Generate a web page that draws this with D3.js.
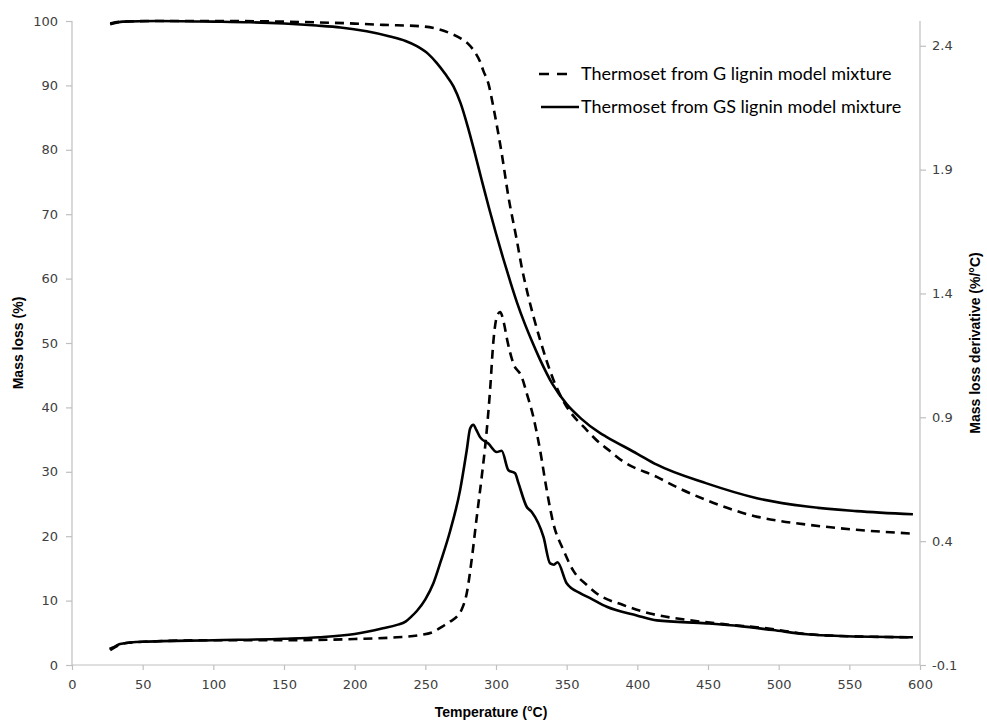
<!DOCTYPE html>
<html>
<head>
<meta charset="utf-8">
<script src="https://cdn.jsdelivr.net/npm/d3@7"></script>
<style>
  html, body { margin: 0; padding: 0; background: #fff; }
  svg { display: block; }
</style>
</head>
<body>
<svg id="chart" width="987" height="723"></svg>
<script>
// ---------- DATA ----------
// Mass loss (%) – Thermoset from G lignin model mixture (dashed)
const gTgTemp = [27, 35, 60, 100, 150, 200, 220, 246, 260, 267.5, 275, 280.5, 285, 288.7, 291, 294.6, 298, 300, 304, 308.8, 314.7, 318, 322.9, 331.2, 340.6, 350, 355, 361.9, 373.7, 378.4, 390, 413.8, 430, 449, 465, 485, 500, 520, 555, 595];
const gTgMass = [99.6, 99.9, 100, 100, 99.9, 99.6, 99.4, 99.2, 98.7, 98.1, 97.3, 96.4, 95.2, 93.7, 92.3, 90.3, 86.8, 84.5, 79.5, 72.7, 66, 62, 57.2, 50.5, 44.3, 40.1, 38.6, 37, 34.4, 33.6, 31.6, 29.2, 27.4, 25.6, 24.3, 23.0, 22.4, 21.8, 21.0, 20.4];

// Mass loss (%) – Thermoset from GS lignin model mixture (solid)
const gsTgTemp = [27, 36, 60, 100, 126, 150, 173, 190, 208.5, 225, 236, 244, 252, 258, 264, 270, 275, 280, 285, 290, 295, 300, 305, 310, 315, 320, 325, 331, 340, 350, 360, 373.7, 378.4, 400, 413.8, 449, 484.6, 520, 555, 595];
const gsTgMass = [99.5, 99.9, 100, 99.9, 99.8, 99.6, 99.3, 99.0, 98.4, 97.6, 96.9, 96.1, 94.9, 93.5, 91.8, 89.8, 87.2, 83.6, 79.5, 75.2, 71.0, 67.0, 63.2, 59.6, 56.2, 53.2, 50.5, 47.5, 43.6, 40.5, 38.3, 36, 35.4, 32.8, 31.1, 28.2, 25.9, 24.6, 23.9, 23.4];

// Mass loss derivative (%/°C) – G (dashed)
const gDtgTemp = [27, 33, 40, 60, 100, 150, 200, 230, 245, 255.7, 262, 267.5, 273, 275.8, 279.3, 282.9, 286.4, 289.9, 293, 295.8, 298.2, 300.5, 302.9, 305.7, 308, 312.3, 318.2, 321.8, 326.5, 331.2, 335.9, 340.6, 347.7, 354.8, 364.3, 371, 390, 409, 437, 461, 491.6, 520, 550, 595];
const gDtg = [-0.04, -0.02, -0.01, -0.004, 0.0, 0.0, 0.005, 0.012, 0.02, 0.034, 0.055, 0.075, 0.10, 0.125, 0.19, 0.33, 0.498, 0.66, 0.82, 1.009, 1.21, 1.304, 1.325, 1.278, 1.21, 1.117, 1.063, 0.996, 0.90, 0.767, 0.606, 0.471, 0.364, 0.28, 0.223, 0.19, 0.142, 0.108, 0.081, 0.065, 0.048, 0.025, 0.016, 0.012];

// Mass loss derivative (%/°C) – GS (solid)
const gsDtgTemp = [26.5, 30, 34, 50, 100, 150, 175, 200, 220, 230, 236, 240, 244, 250, 255.7, 261, 267.5, 274.6, 279.3, 281.7, 284, 286, 288.7, 294.6, 300.5, 304, 308.8, 313.5, 315.9, 321.8, 325.3, 333.6, 338.3, 341, 343.5, 350, 359.5, 366.6, 378.4, 399.6, 413.8, 449, 472.7, 496, 520, 543.5, 595];
const gsDtg = [-0.035, -0.027, -0.015, -0.006, 0.0, 0.006, 0.012, 0.025, 0.048, 0.062, 0.075, 0.095, 0.118, 0.165, 0.23, 0.32, 0.44, 0.606, 0.767, 0.855, 0.87, 0.85, 0.82, 0.794, 0.76, 0.765, 0.686, 0.674, 0.634, 0.538, 0.518, 0.417, 0.31, 0.305, 0.315, 0.23, 0.19, 0.17, 0.135, 0.10, 0.08, 0.068, 0.057, 0.041, 0.024, 0.017, 0.012];

const xTicks = [0, 50, 100, 150, 200, 250, 300, 350, 400, 450, 500, 550, 600];
const yLeftTicks = [0, 10, 20, 30, 40, 50, 60, 70, 80, 90, 100];
const yRightTicks = [-0.1, 0.4, 0.9, 1.4, 1.9, 2.4];

const seriesNames = ["Thermoset from G lignin model mixture", "Thermoset from GS lignin model mixture"];
const xTitle = "Temperature (°C)";
const yLeftTitle = "Mass loss (%)";
const yRightTitle = "Mass loss derivative (%/°C)";

// ---------- CHART ----------
const svg = d3.select("#chart");
const L = 72, R = 920, T = 21, B = 665;
const axisColor = "#bfbfbf";
const tickFont = "'DejaVu Sans', Verdana, sans-serif";
const titleFont = "'Liberation Sans Narrow', 'Liberation Sans', Arial, sans-serif";

const x = d3.scaleLinear().domain([0, 600]).range([L, R]);
const yL = d3.scaleLinear().domain([0, 100]).range([B, T]);
const yR = d3.scaleLinear().domain([-0.1, 2.5]).range([B, T]);

// axes
const xAxis = svg.append("g").attr("transform", `translate(0,${B})`)
  .call(d3.axisBottom(x).tickValues(xTicks).tickSize(5).tickPadding(10).tickFormat(d3.format("d")));
const yAxisL = svg.append("g").attr("transform", `translate(${L},0)`)
  .call(d3.axisLeft(yL).tickValues(yLeftTicks).tickSize(6).tickPadding(8).tickFormat(d3.format("d")));
const yAxisR = svg.append("g").attr("transform", `translate(${R},0)`)
  .call(d3.axisRight(yR).tickValues(yRightTicks).tickSize(6).tickPadding(6)
    .tickFormat(d => d.toFixed(1)));

[xAxis, yAxisL, yAxisR].forEach(g => {
  g.select(".domain").attr("stroke", axisColor).attr("stroke-width", 1.2);
  g.selectAll(".tick line").attr("stroke", axisColor).attr("stroke-width", 1.2);
  g.selectAll(".tick text").attr("fill", "#404040").style("font-family", tickFont).style("font-size", "13px");
});
xAxis.select(".domain").attr("d", `M${L},0H${R}`);
yAxisL.select(".domain").attr("d", `M0,${T}V${B}`);
yAxisR.select(".domain").attr("d", `M0,${T}V${B}`);

// axis titles
svg.append("text").attr("x", (L + R) / 2 - 5).attr("y", 717)
  .attr("text-anchor", "middle").style("font-family", titleFont).style("font-weight", "bold")
  .style("font-size", "14px").attr("fill", "#000").text(xTitle);
svg.append("text").attr("transform", `translate(23,${(T + B) / 2}) rotate(-90)`)
  .attr("text-anchor", "middle").style("font-family", titleFont).style("font-weight", "bold")
  .style("font-size", "14px").attr("fill", "#000").text(yLeftTitle);
svg.append("text").attr("transform", `translate(980,${(T + B) / 2}) rotate(-90)`)
  .attr("text-anchor", "middle").style("font-family", titleFont).style("font-weight", "bold")
  .style("font-size", "14px").attr("fill", "#000").text(yRightTitle);

// lines
const mk = (xs, ys) => xs.map((t, i) => [t, ys[i]]);
const lineL = d3.line().x(d => x(d[0])).y(d => yL(d[1])).curve(d3.curveMonotoneX);
const lineR = d3.line().x(d => x(d[0])).y(d => yR(d[1])).curve(d3.curveMonotoneX);
const dash = "9,6";

const plot = svg.append("g");
plot.append("path").attr("d", lineR(mk(gsDtgTemp, gsDtg)))
  .attr("fill", "none").attr("stroke", "#000").attr("stroke-width", 2.6).attr("stroke-linejoin", "round");
plot.append("path").attr("d", lineR(mk(gDtgTemp, gDtg)))
  .attr("fill", "none").attr("stroke", "#000").attr("stroke-width", 2.6).attr("stroke-dasharray", dash);
plot.append("path").attr("d", lineL(mk(gsTgTemp, gsTgMass)))
  .attr("fill", "none").attr("stroke", "#000").attr("stroke-width", 2.6).attr("stroke-linejoin", "round");
plot.append("path").attr("d", lineL(mk(gTgTemp, gTgMass)))
  .attr("fill", "none").attr("stroke", "#000").attr("stroke-width", 2.6).attr("stroke-dasharray", dash);

// legend
const lg = svg.append("g");
const legendRows = [
  { name: seriesNames[0], dashed: true, y: 74, x1: 539, x2: 568 },
  { name: seriesNames[1], dashed: false, y: 107, x1: 541, x2: 579 }
];
legendRows.forEach(r => {
  lg.append("line").attr("x1", r.x1).attr("x2", r.x2).attr("y1", r.y).attr("y2", r.y)
    .attr("stroke", "#000").attr("stroke-width", 2.6)
    .attr("stroke-dasharray", r.dashed ? "10,8" : null);
  lg.append("text").attr("x", 581).attr("y", r.y + 6)
    .style("font-family", "Lato, 'Open Sans', sans-serif").style("font-size", "18px")
    .attr("fill", "#000").text(r.name);
});
</script>
</body>
</html>
